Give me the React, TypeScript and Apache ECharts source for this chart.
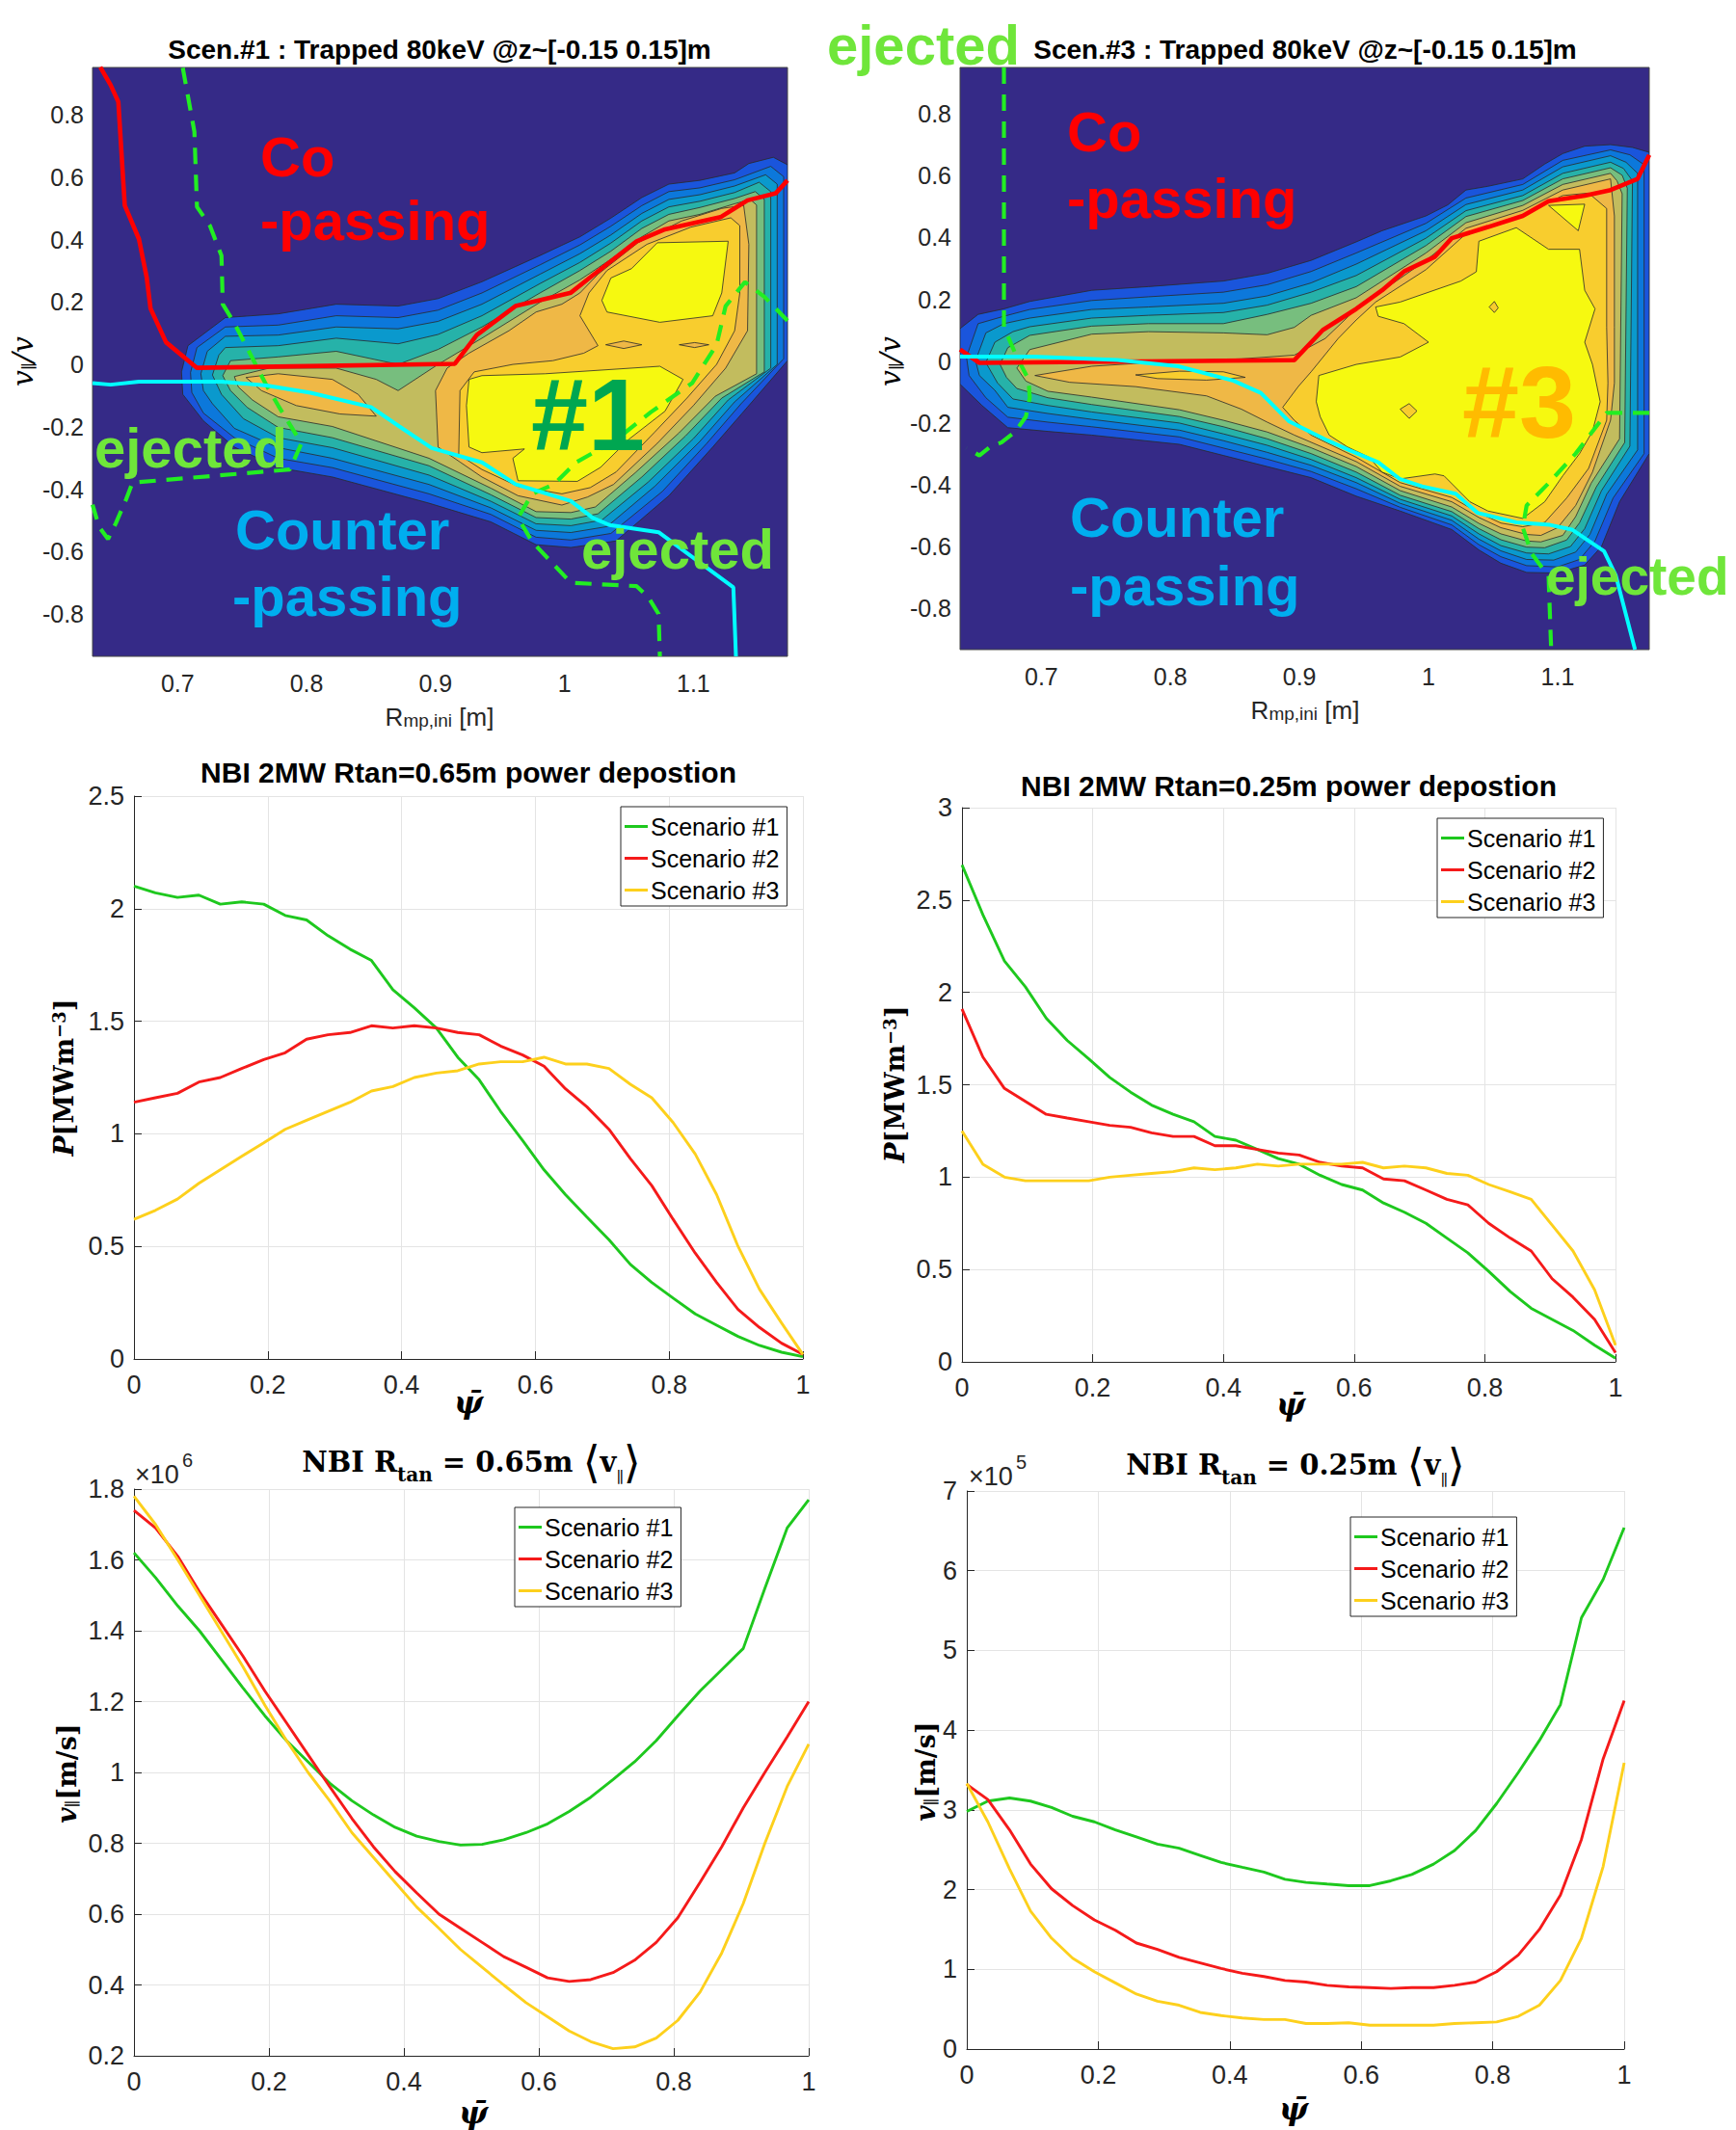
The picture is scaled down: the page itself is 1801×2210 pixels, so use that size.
import React, { useEffect, useRef } from 'react';
import * as echarts from 'echarts';

// ---------------- line-plot data ----------------
const PSI = [0, 0.032, 0.065, 0.097, 0.129, 0.161, 0.194, 0.226, 0.258, 0.29, 0.323, 0.355, 0.387, 0.419, 0.452, 0.484, 0.516, 0.548, 0.581, 0.613, 0.645, 0.677, 0.71, 0.742, 0.774, 0.806, 0.839, 0.871, 0.903, 0.935, 0.968, 1];

// NBI 2MW Rtan=0.65m power deposition [MW m^-3]
const P65_S1 = [2.10, 2.07, 2.05, 2.06, 2.02, 2.03, 2.02, 1.97, 1.95, 1.88, 1.82, 1.77, 1.64, 1.56, 1.47, 1.34, 1.24, 1.10, 0.97, 0.84, 0.73, 0.63, 0.53, 0.42, 0.34, 0.27, 0.20, 0.15, 0.10, 0.06, 0.03, 0.01];
const P65_S2 = [1.14, 1.16, 1.18, 1.23, 1.25, 1.29, 1.33, 1.36, 1.42, 1.44, 1.45, 1.48, 1.47, 1.48, 1.47, 1.45, 1.44, 1.39, 1.35, 1.30, 1.20, 1.12, 1.02, 0.89, 0.77, 0.62, 0.47, 0.34, 0.22, 0.14, 0.07, 0.02];
const P65_S3 = [0.62, 0.66, 0.71, 0.78, 0.84, 0.90, 0.96, 1.02, 1.06, 1.10, 1.14, 1.19, 1.21, 1.25, 1.27, 1.28, 1.31, 1.32, 1.32, 1.34, 1.31, 1.31, 1.29, 1.22, 1.16, 1.05, 0.91, 0.73, 0.50, 0.31, 0.16, 0.02];

// NBI 2MW Rtan=0.25m power deposition
const P25_S1 = [2.69, 2.42, 2.17, 2.03, 1.86, 1.74, 1.64, 1.54, 1.46, 1.39, 1.34, 1.30, 1.22, 1.20, 1.15, 1.10, 1.07, 1.01, 0.96, 0.93, 0.86, 0.81, 0.75, 0.67, 0.59, 0.49, 0.38, 0.29, 0.23, 0.17, 0.09, 0.02];
const P25_S2 = [1.91, 1.65, 1.48, 1.41, 1.34, 1.32, 1.30, 1.28, 1.27, 1.24, 1.22, 1.22, 1.17, 1.17, 1.15, 1.13, 1.12, 1.08, 1.06, 1.05, 0.99, 0.98, 0.93, 0.88, 0.85, 0.75, 0.67, 0.60, 0.45, 0.35, 0.23, 0.05];
const P25_S3 = [1.25, 1.07, 1.00, 0.98, 0.98, 0.98, 0.98, 1.00, 1.01, 1.02, 1.03, 1.05, 1.04, 1.05, 1.07, 1.06, 1.07, 1.07, 1.07, 1.08, 1.05, 1.06, 1.05, 1.02, 1.01, 0.96, 0.92, 0.88, 0.74, 0.60, 0.39, 0.09];

// <v||> Rtan=0.65m  (x 1e6 m/s)
const V65_S1 = [1.62, 1.55, 1.47, 1.40, 1.32, 1.24, 1.16, 1.09, 1.03, 0.97, 0.92, 0.88, 0.845, 0.82, 0.805, 0.795, 0.797, 0.81, 0.83, 0.855, 0.89, 0.93, 0.98, 1.03, 1.09, 1.16, 1.23, 1.29, 1.35, 1.52, 1.69, 1.77];
const V65_S2 = [1.74, 1.69, 1.61, 1.51, 1.42, 1.33, 1.23, 1.14, 1.05, 0.96, 0.87, 0.79, 0.72, 0.66, 0.60, 0.56, 0.52, 0.48, 0.45, 0.42, 0.41, 0.415, 0.435, 0.47, 0.52, 0.59, 0.69, 0.79, 0.90, 1.00, 1.10, 1.20];
const V65_S3 = [1.78, 1.70, 1.60, 1.50, 1.40, 1.30, 1.19, 1.09, 1.00, 0.92, 0.83, 0.76, 0.69, 0.62, 0.56, 0.50, 0.45, 0.40, 0.35, 0.31, 0.27, 0.24, 0.22, 0.225, 0.25, 0.30, 0.38, 0.49, 0.63, 0.80, 0.96, 1.08];

// <v||> Rtan=0.25m  (x 1e5 m/s)
const V25_S1 = [2.98, 3.11, 3.15, 3.11, 3.03, 2.92, 2.85, 2.75, 2.66, 2.57, 2.52, 2.43, 2.34, 2.28, 2.22, 2.13, 2.09, 2.07, 2.05, 2.05, 2.11, 2.19, 2.32, 2.49, 2.74, 3.08, 3.47, 3.87, 4.32, 5.41, 5.89, 6.54];
const V25_S2 = [3.32, 3.13, 2.75, 2.32, 2.01, 1.80, 1.62, 1.49, 1.33, 1.25, 1.15, 1.08, 1.01, 0.95, 0.91, 0.86, 0.84, 0.80, 0.78, 0.77, 0.76, 0.77, 0.77, 0.80, 0.84, 0.97, 1.18, 1.50, 1.93, 2.63, 3.64, 4.37];
const V25_S3 = [3.33, 2.85, 2.26, 1.73, 1.39, 1.14, 0.97, 0.83, 0.69, 0.60, 0.55, 0.46, 0.42, 0.39, 0.37, 0.37, 0.32, 0.32, 0.33, 0.30, 0.30, 0.30, 0.30, 0.32, 0.33, 0.34, 0.41, 0.55, 0.86, 1.39, 2.29, 3.59];

// ---------------- contour plots: tick labels ----------------
const R_TICKS = [0.7, 0.8, 0.9, 1.0, 1.1];
const V_TICKS = [-0.8, -0.6, -0.4, -0.2, 0, 0.2, 0.4, 0.6, 0.8];
const R_RANGE_1 = [0.634, 1.173];
const V_RANGE_1 = [-0.936, 0.952];
const R_RANGE_3 = [0.637, 1.171];
const V_RANGE_3 = [-0.935, 0.951];

// ---------------- Scen.#1 contour level outlines [R, v||/v] ----------------
const S1_L1 = [[0.703,-0.024],[0.708,0.06],[0.737,0.15],[0.778,0.162],[0.823,0.193],[0.871,0.187],[0.902,0.211],[0.936,0.265],[0.981,0.349],[1.012,0.409],[1.036,0.469],[1.06,0.535],[1.081,0.578],[1.105,0.59],[1.132,0.614],[1.143,0.644],[1.162,0.664],[1.173,0.64],[1.173,0.012],[1.143,-0.132],[1.115,-0.265],[1.081,-0.421],[1.04,-0.566],[1.005,-0.587],[0.978,-0.578],[0.943,-0.505],[0.895,-0.445],[0.82,-0.361],[0.778,-0.331],[0.744,-0.265],[0.72,-0.181],[0.704,-0.096]];
const S1_L2 = [[0.71,-0.026],[0.715,0.054],[0.737,0.12],[0.778,0.126],[0.823,0.156],[0.871,0.15],[0.902,0.174],[0.936,0.229],[0.981,0.319],[1.012,0.383],[1.036,0.443],[1.06,0.509],[1.081,0.554],[1.105,0.566],[1.132,0.592],[1.16,0.635],[1.17,0.602],[1.17,0.018],[1.137,-0.126],[1.11,-0.255],[1.076,-0.407],[1.036,-0.542],[1.005,-0.563],[0.978,-0.554],[0.943,-0.481],[0.895,-0.415],[0.82,-0.331],[0.778,-0.301],[0.744,-0.235],[0.72,-0.156],[0.711,-0.09]];
const S1_L3 = [[0.718,-0.03],[0.723,0.042],[0.737,0.09],[0.778,0.094],[0.823,0.12],[0.871,0.114],[0.902,0.138],[0.936,0.193],[0.981,0.289],[1.012,0.355],[1.036,0.415],[1.06,0.484],[1.081,0.529],[1.105,0.544],[1.132,0.572],[1.156,0.608],[1.165,0.578],[1.165,0.0],[1.132,-0.12],[1.105,-0.247],[1.07,-0.391],[1.033,-0.52],[1.005,-0.539],[0.978,-0.532],[0.943,-0.46],[0.895,-0.385],[0.82,-0.301],[0.778,-0.267],[0.744,-0.205],[0.727,-0.126],[0.72,-0.084]];
const S1_L4 = [[0.727,-0.034],[0.732,0.03],[0.737,0.054],[0.778,0.06],[0.823,0.084],[0.871,0.066],[0.902,0.096],[0.936,0.156],[0.981,0.259],[1.012,0.327],[1.036,0.389],[1.06,0.46],[1.081,0.505],[1.105,0.523],[1.132,0.551],[1.151,0.584],[1.16,0.554],[1.16,-0.012],[1.127,-0.114],[1.1,-0.238],[1.065,-0.377],[1.029,-0.499],[1.005,-0.517],[0.978,-0.511],[0.943,-0.439],[0.895,-0.355],[0.82,-0.267],[0.778,-0.235],[0.751,-0.174],[0.734,-0.096]];
const S1_L5 = [[0.735,-0.036],[0.741,0.012],[0.778,0.024],[0.823,0.042],[0.871,0.0],[0.902,0.048],[0.936,0.12],[0.981,0.229],[1.012,0.301],[1.036,0.363],[1.06,0.436],[1.081,0.481],[1.105,0.503],[1.132,0.532],[1.148,0.554],[1.155,0.529],[1.155,-0.024],[1.122,-0.108],[1.094,-0.229],[1.06,-0.361],[1.026,-0.479],[1.005,-0.496],[0.978,-0.491],[0.943,-0.418],[0.895,-0.325],[0.82,-0.235],[0.778,-0.202],[0.754,-0.138],[0.741,-0.084]];
const S1_L6 = [[0.744,-0.039],[0.771,-0.012],[0.823,-0.012],[0.854,-0.048],[0.871,-0.084],[0.902,0.0],[0.936,0.084],[0.981,0.199],[1.012,0.271],[1.036,0.337],[1.06,0.409],[1.081,0.46],[1.105,0.481],[1.132,0.515],[1.144,0.529],[1.149,0.511],[1.149,-0.03],[1.117,-0.102],[1.089,-0.219],[1.055,-0.347],[1.024,-0.457],[1.005,-0.475],[0.978,-0.472],[0.943,-0.397],[0.895,-0.301],[0.82,-0.199],[0.778,-0.168],[0.758,-0.114],[0.747,-0.072]];
const S1_TAN_L = [[0.753,-0.042],[0.778,-0.03],[0.82,-0.048],[0.84,-0.096],[0.854,-0.166],[0.826,-0.159],[0.792,-0.132],[0.765,-0.084]];
const S1_TAN = [[0.902,-0.265],[0.9,-0.084],[0.909,-0.012],[0.926,0.036],[0.957,0.108],[0.978,0.168],[0.998,0.193],[1.012,0.229],[1.026,0.289],[1.057,0.39],[1.091,0.46],[1.122,0.5],[1.139,0.51],[1.143,0.385],[1.142,0.108],[1.125,-0.012],[1.1,-0.132],[1.072,-0.253],[1.038,-0.385],[1.018,-0.425],[0.998,-0.451],[0.964,-0.421],[0.936,-0.361],[0.919,-0.313]];
const S1_GOLD = [[0.918,-0.289],[0.919,-0.084],[0.93,-0.024],[0.96,0.0],[0.991,0.012],[1.015,0.036],[1.026,0.06],[1.012,0.156],[1.019,0.229],[1.033,0.301],[1.064,0.385],[1.098,0.44],[1.129,0.47],[1.136,0.445],[1.136,0.229],[1.132,0.108],[1.118,0.0],[1.095,-0.108],[1.07,-0.217],[1.04,-0.345],[1.02,-0.395],[0.998,-0.415],[0.964,-0.391],[0.936,-0.337]];
const S1_YEL_UP = [[1.036,0.277],[1.052,0.307],[1.072,0.39],[1.127,0.395],[1.122,0.229],[1.115,0.156],[1.074,0.135],[1.033,0.168],[1.029,0.205]];
const S1_YEL_LO = [[0.926,-0.048],[0.936,-0.036],[0.985,-0.03],[1.074,-0.006],[1.092,-0.048],[1.078,-0.15],[1.05,-0.24],[1.028,-0.33],[1.01,-0.375],[0.964,-0.373],[0.96,-0.301],[0.969,-0.271],[0.936,-0.283],[0.926,-0.265],[0.924,-0.132]];
const S1_DIA_A = [[1.032,0.063],[1.046,0.075],[1.06,0.063],[1.046,0.051]];
const S1_DIA_B = [[1.089,0.063],[1.101,0.07],[1.112,0.063],[1.101,0.054]];

// boundary curves, Scen.#1
const S1_RED = [[0.64,0.953],[0.648,0.896],[0.654,0.842],[0.659,0.51],[0.67,0.402],[0.676,0.279],[0.679,0.179],[0.691,0.071],[0.715,-0.011],[0.915,0.002],[0.932,0.094],[0.962,0.187],[1.005,0.23],[1.02,0.279],[1.056,0.395],[1.078,0.433],[1.121,0.472],[1.142,0.526],[1.164,0.549],[1.173,0.59]];
const S1_CYAN = [[0.634,-0.06],[0.648,-0.065],[0.67,-0.055],[0.734,-0.055],[0.769,-0.068],[0.803,-0.091],[0.85,-0.137],[0.872,-0.199],[0.897,-0.268],[0.936,-0.314],[0.962,-0.384],[1.005,-0.438],[1.022,-0.492],[1.035,-0.515],[1.073,-0.538],[1.131,-0.715],[1.133,-0.936]];
const S1_EJ_A = [[0.704,0.951],[0.713,0.746],[0.715,0.505],[0.725,0.445],[0.734,0.349],[0.735,0.193],[0.744,0.132],[0.756,0.036],[0.768,-0.06],[0.778,-0.132],[0.796,-0.253],[0.787,-0.337],[0.665,-0.379],[0.66,-0.433],[0.652,-0.51],[0.646,-0.56],[0.639,-0.52],[0.634,-0.45]];
const S1_EJ_B = [[1.173,0.14],[1.155,0.217],[1.14,0.264],[1.125,0.187],[1.118,0.063],[1.099,-0.06],[1.067,-0.153],[1.039,-0.245],[1.009,-0.314],[0.992,-0.384],[0.975,-0.415],[0.964,-0.492],[0.975,-0.569],[1.005,-0.7],[1.056,-0.711],[1.065,-0.746],[1.073,-0.8],[1.074,-0.936]];

// ---------------- Scen.#3 contour level outlines ----------------
const S3_L1 = [[0.637,0.105],[0.651,0.151],[0.671,0.169],[0.691,0.193],[0.739,0.229],[0.783,0.241],[0.841,0.259],[0.875,0.284],[0.909,0.326],[0.944,0.386],[0.964,0.422],[0.998,0.47],[1.015,0.506],[1.029,0.554],[1.046,0.566],[1.073,0.59],[1.09,0.638],[1.104,0.672],[1.121,0.696],[1.141,0.701],[1.158,0.692],[1.171,0.676],[1.171,-0.3],[1.148,-0.456],[1.134,-0.601],[1.121,-0.661],[1.1,-0.687],[1.076,-0.685],[1.056,-0.655],[1.039,-0.612],[1.018,-0.546],[0.978,-0.486],[0.944,-0.438],[0.909,-0.378],[0.875,-0.342],[0.841,-0.306],[0.807,-0.27],[0.739,-0.24],[0.705,-0.228],[0.674,-0.216],[0.654,-0.144],[0.637,-0.075]];
const S3_L2 = [[0.642,0.013],[0.651,0.121],[0.671,0.145],[0.691,0.167],[0.739,0.196],[0.783,0.208],[0.841,0.223],[0.875,0.247],[0.909,0.29],[0.944,0.35],[0.998,0.446],[1.029,0.528],[1.073,0.572],[1.104,0.65],[1.141,0.684],[1.156,0.668],[1.167,0.636],[1.167,-0.3],[1.143,-0.444],[1.129,-0.583],[1.117,-0.643],[1.1,-0.667],[1.076,-0.663],[1.056,-0.634],[1.039,-0.595],[1.018,-0.531],[0.978,-0.474],[0.944,-0.414],[0.909,-0.358],[0.875,-0.318],[0.841,-0.282],[0.807,-0.246],[0.739,-0.213],[0.705,-0.198],[0.674,-0.182],[0.657,-0.119],[0.644,-0.047]];
const S3_L3 = [[0.649,0.001],[0.657,0.091],[0.671,0.121],[0.691,0.139],[0.739,0.167],[0.783,0.175],[0.841,0.187],[0.875,0.211],[0.909,0.253],[0.944,0.314],[0.998,0.422],[1.029,0.507],[1.073,0.554],[1.104,0.629],[1.141,0.665],[1.153,0.644],[1.162,0.608],[1.162,-0.288],[1.138,-0.432],[1.125,-0.562],[1.114,-0.619],[1.097,-0.645],[1.076,-0.643],[1.056,-0.615],[1.039,-0.577],[1.018,-0.516],[0.978,-0.461],[0.944,-0.394],[0.909,-0.338],[0.875,-0.296],[0.841,-0.258],[0.807,-0.224],[0.739,-0.189],[0.705,-0.17],[0.674,-0.15],[0.664,-0.095],[0.652,-0.047]];
const S3_L4 = [[0.657,-0.005],[0.664,0.061],[0.678,0.095],[0.691,0.111],[0.739,0.139],[0.783,0.148],[0.841,0.157],[0.875,0.181],[0.909,0.223],[0.944,0.277],[0.998,0.398],[1.029,0.487],[1.073,0.536],[1.104,0.608],[1.141,0.644],[1.151,0.624],[1.158,0.584],[1.156,-0.276],[1.134,-0.42],[1.121,-0.543],[1.11,-0.601],[1.093,-0.625],[1.076,-0.622],[1.056,-0.598],[1.039,-0.56],[1.018,-0.502],[0.978,-0.448],[0.944,-0.378],[0.909,-0.319],[0.875,-0.273],[0.841,-0.236],[0.807,-0.201],[0.739,-0.165],[0.705,-0.144],[0.678,-0.123],[0.666,-0.071]];
const S3_L5 = [[0.668,-0.011],[0.674,0.043],[0.691,0.083],[0.739,0.113],[0.783,0.121],[0.841,0.121],[0.875,0.151],[0.909,0.187],[0.944,0.241],[0.998,0.374],[1.029,0.468],[1.073,0.52],[1.104,0.59],[1.141,0.626],[1.15,0.602],[1.154,0.56],[1.152,-0.264],[1.13,-0.408],[1.117,-0.524],[1.107,-0.58],[1.09,-0.605],[1.076,-0.603],[1.056,-0.579],[1.039,-0.543],[1.018,-0.488],[0.978,-0.435],[0.944,-0.36],[0.909,-0.3],[0.875,-0.252],[0.841,-0.213],[0.807,-0.18],[0.739,-0.141],[0.705,-0.119],[0.681,-0.089],[0.673,-0.053]];
const S3_L6 = [[0.681,-0.023],[0.691,0.037],[0.739,0.087],[0.783,0.095],[0.841,0.091],[0.875,0.085],[0.896,0.109],[0.909,0.148],[0.944,0.205],[0.998,0.35],[1.029,0.448],[1.073,0.504],[1.104,0.572],[1.141,0.608],[1.146,0.584],[1.15,0.542],[1.148,-0.252],[1.126,-0.396],[1.114,-0.504],[1.104,-0.565],[1.087,-0.586],[1.076,-0.583],[1.056,-0.56],[1.039,-0.526],[1.018,-0.473],[0.978,-0.42],[0.944,-0.342],[0.909,-0.281],[0.875,-0.23],[0.841,-0.192],[0.807,-0.158],[0.739,-0.117],[0.705,-0.098],[0.688,-0.065]];
const S3_TAN = [[0.695,-0.047],[0.739,-0.017],[0.807,0.001],[0.855,0.007],[0.896,0.019],[0.92,0.073],[0.944,0.169],[0.998,0.326],[1.029,0.43],[1.073,0.488],[1.104,0.554],[1.141,0.59],[1.144,0.47],[1.144,0.109],[1.144,-0.071],[1.141,-0.192],[1.127,-0.36],[1.114,-0.468],[1.1,-0.54],[1.087,-0.565],[1.076,-0.562],[1.056,-0.54],[1.039,-0.507],[1.018,-0.456],[0.978,-0.406],[0.944,-0.326],[0.896,-0.24],[0.875,-0.198],[0.855,-0.156],[0.828,-0.113],[0.773,-0.083],[0.722,-0.069]];
const S3_GOLD = [[0.887,-0.15],[0.899,-0.083],[0.909,-0.035],[0.93,0.073],[0.944,0.133],[0.959,0.191],[0.998,0.296],[1.029,0.412],[1.073,0.472],[1.104,0.536],[1.124,0.544],[1.138,0.494],[1.138,0.109],[1.139,-0.071],[1.138,-0.192],[1.124,-0.348],[1.107,-0.444],[1.09,-0.523],[1.073,-0.537],[1.056,-0.525],[1.039,-0.492],[1.018,-0.442],[0.978,-0.394],[0.944,-0.312],[0.909,-0.24],[0.896,-0.192]];
const S3_GOLD_SPIKE = [[0.773,-0.045],[0.807,-0.033],[0.841,-0.035],[0.858,-0.053],[0.828,-0.062],[0.79,-0.057]];
const S3_YEL = [[0.959,0.175],[0.978,0.191],[1.025,0.259],[1.037,0.289],[1.039,0.388],[1.068,0.432],[1.093,0.362],[1.117,0.362],[1.121,0.229],[1.129,0.169],[1.121,0.061],[1.127,-0.011],[1.133,-0.132],[1.127,-0.228],[1.117,-0.3],[1.104,-0.372],[1.09,-0.456],[1.073,-0.51],[1.046,-0.486],[1.032,-0.456],[1.012,-0.372],[1.005,-0.366],[0.978,-0.382],[0.964,-0.36],[0.954,-0.312],[0.937,-0.278],[0.923,-0.24],[0.916,-0.18],[0.913,-0.132],[0.915,-0.047],[0.944,-0.011],[0.978,0.013],[1.0,0.061],[0.981,0.121],[0.961,0.145]];
const S3_YEL_TRI = [[1.093,0.504],[1.121,0.508],[1.116,0.422]];
const S3_DIA_A = [[1.047,0.175],[1.051,0.193],[1.054,0.172],[1.051,0.157]];
const S3_DIA_B = [[0.978,-0.156],[0.985,-0.138],[0.991,-0.162],[0.985,-0.186]];

// boundary curves, Scen.#3
const S3_RED = [[0.637,0.037],[0.652,-0.006],[0.896,0.003],[0.918,0.1],[0.944,0.169],[0.964,0.229],[0.981,0.29],[1.005,0.338],[1.018,0.398],[1.046,0.434],[1.073,0.47],[1.093,0.518],[1.121,0.536],[1.141,0.554],[1.162,0.59],[1.171,0.668]];
const S3_CYAN = [[0.637,0.014],[0.694,0.014],[0.759,0.003],[0.806,-0.017],[0.849,-0.064],[0.87,-0.103],[0.892,-0.196],[0.922,-0.258],[0.939,-0.29],[0.961,-0.328],[0.978,-0.383],[0.995,-0.406],[1.021,-0.43],[1.038,-0.492],[1.068,-0.523],[1.094,-0.531],[1.111,-0.546],[1.136,-0.616],[1.145,-0.694],[1.16,-0.935]];
const S3_EJ_A = [[0.671,0.951],[0.671,0.109],[0.681,0.013],[0.69,-0.059],[0.691,-0.119],[0.688,-0.18],[0.68,-0.228],[0.669,-0.264],[0.661,-0.276],[0.652,-0.306],[0.642,-0.282]];
const S3_EJ_B = [[1.171,-0.168],[1.138,-0.168],[1.114,-0.3],[1.093,-0.396],[1.076,-0.468],[1.073,-0.54],[1.08,-0.625],[1.093,-0.697],[1.095,-0.935]];

// ---------------- styles ----------------
const SANS = '"Liberation Sans", Arial, Helvetica, sans-serif';
const SERIF = '"DejaVu Serif", "Liberation Serif", serif';
const AX = '#262626';
const GREEN = '#1ec81e';
const RED = '#f51a1a';
const YELLOW = '#fdd01c';
const LV = ['#1a55dc', '#0c78db', '#0a99cd', '#26b2a9', '#77be7e', '#c2bc5e', '#efb846', '#f8cd2e', '#f6f910'];
const NAVY = '#352a87';
const EJ_GREEN = '#22ee22';

const fmt1 = (v: number) => String(Math.round(v * 10) / 10);

function polySeries(gi: number, levels: { pts: number[][]; color: string }[]) {
  return {
    type: 'custom',
    xAxisIndex: gi,
    yAxisIndex: gi,
    clip: true,
    silent: true,
    z: 1,
    data: levels.map((lv, i) => [lv.pts[0][0], lv.pts[0][1], i]),
    encode: { x: 0, y: 1 },
    renderItem: (_params: any, api: any) => {
      const lv = levels[api.value(2)];
      return {
        type: 'polygon',
        shape: { points: lv.pts.map((p) => api.coord(p)) },
        style: { fill: lv.color, stroke: '#2a2a2a', lineWidth: 0.8 },
      };
    },
  };
}

function curve(gi: number, pts: number[][], color: string, width: number, dashed = false) {
  return {
    type: 'line',
    xAxisIndex: gi,
    yAxisIndex: gi,
    data: pts,
    showSymbol: false,
    symbol: 'none',
    silent: true,
    z: 5,
    lineStyle: { color, width, type: dashed ? [17, 11] : 'solid' },
  };
}

function lineSeries(gi: number, name: string, ys: number[], color: string) {
  return {
    type: 'line',
    name,
    xAxisIndex: gi,
    yAxisIndex: gi,
    data: PSI.map((x, i) => [x, ys[i]]),
    showSymbol: false,
    symbol: 'none',
    silent: true,
    z: 3,
    lineStyle: { color, width: 2.9 },
    itemStyle: { color },
  };
}

function contourX(gi: number, r: number[]) {
  return {
    gridIndex: gi, type: 'value', min: r[0], max: r[1],
    axisLine: { show: false }, axisTick: { show: false }, splitLine: { show: false },
    axisLabel: { customValues: R_TICKS, formatter: fmt1, color: AX, fontSize: 25, fontFamily: SANS, margin: 15 },
  };
}
function contourY(gi: number, r: number[]) {
  return {
    gridIndex: gi, type: 'value', min: r[0], max: r[1],
    axisLine: { show: false }, axisTick: { show: false }, splitLine: { show: false },
    axisLabel: { customValues: V_TICKS, formatter: fmt1, color: AX, fontSize: 25, fontFamily: SANS, margin: 9 },
  };
}
function lineX(gi: number) {
  return {
    gridIndex: gi, type: 'value', min: 0, max: 1, interval: 0.2,
    axisLine: { show: true, onZero: false, lineStyle: { color: AX, width: 1 } },
    axisTick: { show: true, inside: true, length: 8, lineStyle: { color: AX } },
    axisLabel: { color: AX, fontSize: 27, fontFamily: SANS, margin: 13, formatter: fmt1 },
    splitLine: { show: true, lineStyle: { color: '#e4e4e4', width: 1 } },
  };
}
function lineY(gi: number, min: number, max: number, interval: number) {
  return {
    gridIndex: gi, type: 'value', min, max, interval,
    axisLine: { show: true, onZero: false, lineStyle: { color: AX, width: 1 } },
    axisTick: { show: true, inside: true, length: 8, lineStyle: { color: AX } },
    axisLabel: { color: AX, fontSize: 27, fontFamily: SANS, margin: 10, formatter: fmt1 },
    splitLine: { show: true, lineStyle: { color: '#e4e4e4', width: 1 } },
  };
}
function legend(left: number, top: number) {
  return {
    show: true, orient: 'vertical', left, top,
    data: ['Scenario #1', 'Scenario #2', 'Scenario #3'],
    icon: 'rect', itemWidth: 24, itemHeight: 3, itemGap: 8,
    padding: [8, 8, 4, 4],
    backgroundColor: '#ffffff', borderColor: AX, borderWidth: 1, borderRadius: 0,
    selectedMode: false,
    textStyle: { fontSize: 25, color: '#000', fontFamily: SANS, padding: [0, 0, 0, -2] },
  };
}

function txt(x: number, y: number, text: string, font: string, fill: string, opts: any = {}) {
  return {
    type: 'text', x, y, z: 100, silent: true,
    rotation: opts.rot || 0,
    style: {
      text, font, fill,
      textAlign: opts.align || 'left', align: opts.align || 'left',
      textVerticalAlign: 'middle', verticalAlign: 'middle',
      rich: opts.rich,
    },
  };
}

// rich token helper (zrender tokens take a css font string)
const tok = (font: string, fill: string, extra: any = {}) => ({ font, fill, ...extra });

function buildOption() {
  const big = `bold 58px ${SANS}`;
  const s1Levels = [
    { pts: S1_L1, color: LV[0] }, { pts: S1_L2, color: LV[1] }, { pts: S1_L3, color: LV[2] },
    { pts: S1_L4, color: LV[3] }, { pts: S1_L5, color: LV[4] }, { pts: S1_L6, color: LV[5] },
    { pts: S1_TAN_L, color: LV[6] }, { pts: S1_TAN, color: LV[6] }, { pts: S1_GOLD, color: LV[7] },
    { pts: S1_YEL_UP, color: LV[8] }, { pts: S1_YEL_LO, color: LV[8] },
    { pts: S1_DIA_A, color: LV[6] }, { pts: S1_DIA_B, color: LV[6] },
  ];
  const s3Levels = [
    { pts: S3_L1, color: LV[0] }, { pts: S3_L2, color: LV[1] }, { pts: S3_L3, color: LV[2] },
    { pts: S3_L4, color: LV[3] }, { pts: S3_L5, color: LV[4] }, { pts: S3_L6, color: LV[5] },
    { pts: S3_TAN, color: LV[6] }, { pts: S3_GOLD, color: LV[7] }, { pts: S3_GOLD_SPIKE, color: LV[7] },
    { pts: S3_YEL, color: LV[8] }, { pts: S3_YEL_TRI, color: LV[8] },
    { pts: S3_DIA_A, color: LV[7] }, { pts: S3_DIA_B, color: LV[7] },
  ];

  const serifRich = {
    i: tok(`italic 30px ${SERIF}`, '#000'),
    b: tok(`bold 27px ${SERIF}`, '#000'),
    bi: tok(`bold italic 28px ${SERIF}`, '#000'),
    sub: tok(`17px ${SERIF}`, '#000', { verticalAlign: 'bottom', lineHeight: 12 }),
    sup: tok(`bold 18px ${SERIF}`, '#000', { verticalAlign: 'top', lineHeight: 12 }),
  };
  const sansRich = {
    n: tok(`26px ${SANS}`, AX),
    sub: tok(`19px ${SANS}`, AX, { verticalAlign: 'bottom', lineHeight: 10 }),
  };
  const titleRich = {
    t: tok(`bold 29px ${SERIF}`, '#000'),
    sub: tok(`bold 20px ${SERIF}`, '#000', { verticalAlign: 'bottom', lineHeight: 14 }),
    thin: tok(`46px ${SERIF}`, '#000'),
    s2: tok(`16px ${SERIF}`, '#000', { verticalAlign: 'bottom', lineHeight: 14 }),
  };
  const psiFont = `bold italic 32px ${SERIF}`;

  const graphic = [
    // top titles
    txt(456, 51, 'Scen.#1 : Trapped 80keV @z~[-0.15 0.15]m', `bold 28px ${SANS}`, '#000', { align: 'center' }),
    txt(1354, 51, 'Scen.#3 : Trapped 80keV @z~[-0.15 0.15]m', `bold 28px ${SANS}`, '#000', { align: 'center' }),
    // top axis names
    txt(23, 375, '{i|v}{sub|\u2225}{i|/v}', `30px ${SERIF}`, '#000', { align: 'center', rot: Math.PI / 2, rich: serifRich }),
    txt(923, 375, '{i|v}{sub|\u2225}{i|/v}', `30px ${SERIF}`, '#000', { align: 'center', rot: Math.PI / 2, rich: serifRich }),
    txt(456, 744, '{n|R}{sub|mp,ini}{n| [m]}', `26px ${SANS}`, AX, { align: 'center', rich: sansRich }),
    txt(1354, 737, '{n|R}{sub|mp,ini}{n| [m]}', `26px ${SANS}`, AX, { align: 'center', rich: sansRich }),
    // plot 1 annotations
    txt(270, 162, 'Co', big, '#ff0000'),
    txt(270, 228, '-passing', big, '#ff0000'),
    txt(244, 549, 'Counter', big, '#00aeef'),
    txt(241, 618, '-passing', big, '#00aeef'),
    txt(98, 464, 'ejected', big, '#6fe63a'),
    txt(603, 569, 'ejected', big, '#6fe63a'),
    txt(551, 430, '#1', `bold 106px ${SANS}`, '#00a651'),
    // plot 3 annotations
    txt(858, 46, 'ejected', big, '#6fe63a'),
    txt(1107, 136, 'Co', big, '#ff0000'),
    txt(1107, 205, '-passing', big, '#ff0000'),
    txt(1110, 536, 'Counter', big, '#00aeef'),
    txt(1110, 607, '-passing', big, '#00aeef'),
    txt(1517, 417, '#3', `bold 106px ${SANS}`, '#ffbb00'),
    txt(1604, 598, 'ejected', `bold 55px ${SANS}`, '#6fe63a'),
    // middle titles
    txt(486, 801, 'NBI 2MW Rtan=0.65m power depostion', `bold 30px ${SANS}`, '#000', { align: 'center' }),
    txt(1337, 815, 'NBI 2MW Rtan=0.25m power depostion', `bold 30px ${SANS}`, '#000', { align: 'center' }),
    // middle axis names
    txt(66, 1118, '{bi|P}{b|[MWm}{sup|\u22123}{b|]}', `27px ${SERIF}`, '#000', { align: 'center', rot: Math.PI / 2, rich: serifRich }),
    txt(928, 1125, '{bi|P}{b|[MWm}{sup|\u22123}{b|]}', `27px ${SERIF}`, '#000', { align: 'center', rot: Math.PI / 2, rich: serifRich }),
    txt(486, 1455, '\u03C8\u0304', psiFont, '#000', { align: 'center' }),
    txt(1339, 1457, '\u03C8\u0304', psiFont, '#000', { align: 'center' }),
    // bottom titles
    txt(489, 1517, '{t|NBI R}{sub|tan}{t| = 0.65m }{thin|\u27E8}{t|v}{s2|\u2225}{thin|\u27E9}', `bold 29px ${SERIF}`, '#000', { align: 'center', rich: titleRich }),
    txt(1344, 1520, '{t|NBI R}{sub|tan}{t| = 0.25m }{thin|\u27E8}{t|v}{s2|\u2225}{thin|\u27E9}', `bold 29px ${SERIF}`, '#000', { align: 'center', rich: titleRich }),
    // exponent labels
    txt(140, 1530, '\u00D710', `27px ${SANS}`, AX),
    txt(189, 1515, '6', `20px ${SANS}`, AX),
    txt(1005, 1532, '\u00D710', `27px ${SANS}`, AX),
    txt(1054, 1517, '5', `20px ${SANS}`, AX),
    // bottom axis names
    txt(69, 1840, '{bi|v}{sub|\u2225}{b|[m/s]}', `27px ${SERIF}`, '#000', { align: 'center', rot: Math.PI / 2, rich: serifRich }),
    txt(960, 1838, '{bi|v}{sub|\u2225}{b|[m/s]}', `27px ${SERIF}`, '#000', { align: 'center', rot: Math.PI / 2, rich: serifRich }),
    txt(491, 2192, '\u03C8\u0304', psiFont, '#000', { align: 'center' }),
    txt(1342, 2188, '\u03C8\u0304', psiFont, '#000', { align: 'center' }),
  ];

  const gridBase = { containLabel: false, outerBoundsMode: 'none' };
  return {
    animation: false,
    backgroundColor: '#ffffff',
    textStyle: { fontFamily: SANS },
    grid: [
      { ...gridBase, left: 96, top: 70, width: 721, height: 611, show: true, backgroundColor: NAVY, borderColor: '#444', borderWidth: 1 },
      { ...gridBase, left: 996, top: 70, width: 715, height: 604, show: true, backgroundColor: NAVY, borderColor: '#444', borderWidth: 1 },
      { ...gridBase, left: 139, top: 826, width: 694, height: 584 },
      { ...gridBase, left: 998, top: 838, width: 678, height: 575 },
      { ...gridBase, left: 139, top: 1545, width: 700, height: 588 },
      { ...gridBase, left: 1003, top: 1547, width: 682, height: 579 },
    ],
    xAxis: [contourX(0, R_RANGE_1), contourX(1, R_RANGE_3), lineX(2), lineX(3), lineX(4), lineX(5)],
    yAxis: [contourY(0, V_RANGE_1), contourY(1, V_RANGE_3), lineY(2, 0, 2.5, 0.5), lineY(3, 0, 3, 0.5), lineY(4, 0.2, 1.8, 0.2), lineY(5, 0, 7, 1)],
    legend: [legend(644, 837), legend(1491, 849), legend(534, 1564), legend(1401, 1574)],
    graphic,
    series: [
      polySeries(0, s1Levels),
      curve(0, S1_EJ_A, EJ_GREEN, 4.2, true),
      curve(0, S1_EJ_B, EJ_GREEN, 4.2, true),
      curve(0, S1_RED, '#ff0000', 4.6),
      curve(0, S1_CYAN, '#00ffff', 4),
      polySeries(1, s3Levels),
      curve(1, S3_EJ_A, EJ_GREEN, 4.2, true),
      curve(1, S3_EJ_B, EJ_GREEN, 4.2, true),
      curve(1, S3_RED, '#ff0000', 4.6),
      curve(1, S3_CYAN, '#00ffff', 4),
      lineSeries(2, 'Scenario #1', P65_S1, GREEN),
      lineSeries(2, 'Scenario #2', P65_S2, RED),
      lineSeries(2, 'Scenario #3', P65_S3, YELLOW),
      lineSeries(3, 'Scenario #1', P25_S1, GREEN),
      lineSeries(3, 'Scenario #2', P25_S2, RED),
      lineSeries(3, 'Scenario #3', P25_S3, YELLOW),
      lineSeries(4, 'Scenario #1', V65_S1, GREEN),
      lineSeries(4, 'Scenario #2', V65_S2, RED),
      lineSeries(4, 'Scenario #3', V65_S3, YELLOW),
      lineSeries(5, 'Scenario #1', V25_S1, GREEN),
      lineSeries(5, 'Scenario #2', V25_S2, RED),
      lineSeries(5, 'Scenario #3', V25_S3, YELLOW),
    ],
  };
}

export default function App() {
  const ref = useRef<HTMLDivElement>(null);
  useEffect(() => {
    const el = ref.current;
    if (!el) return;
    const chart = echarts.init(el, null, { renderer: 'svg' });
    chart.setOption(buildOption() as any);
    return () => chart.dispose();
  }, []);
  return (
    <div
      ref={ref}
      style={{ position: 'absolute', left: 0, top: 0, width: 1801, height: 2210, background: '#ffffff' }}
    />
  );
}
